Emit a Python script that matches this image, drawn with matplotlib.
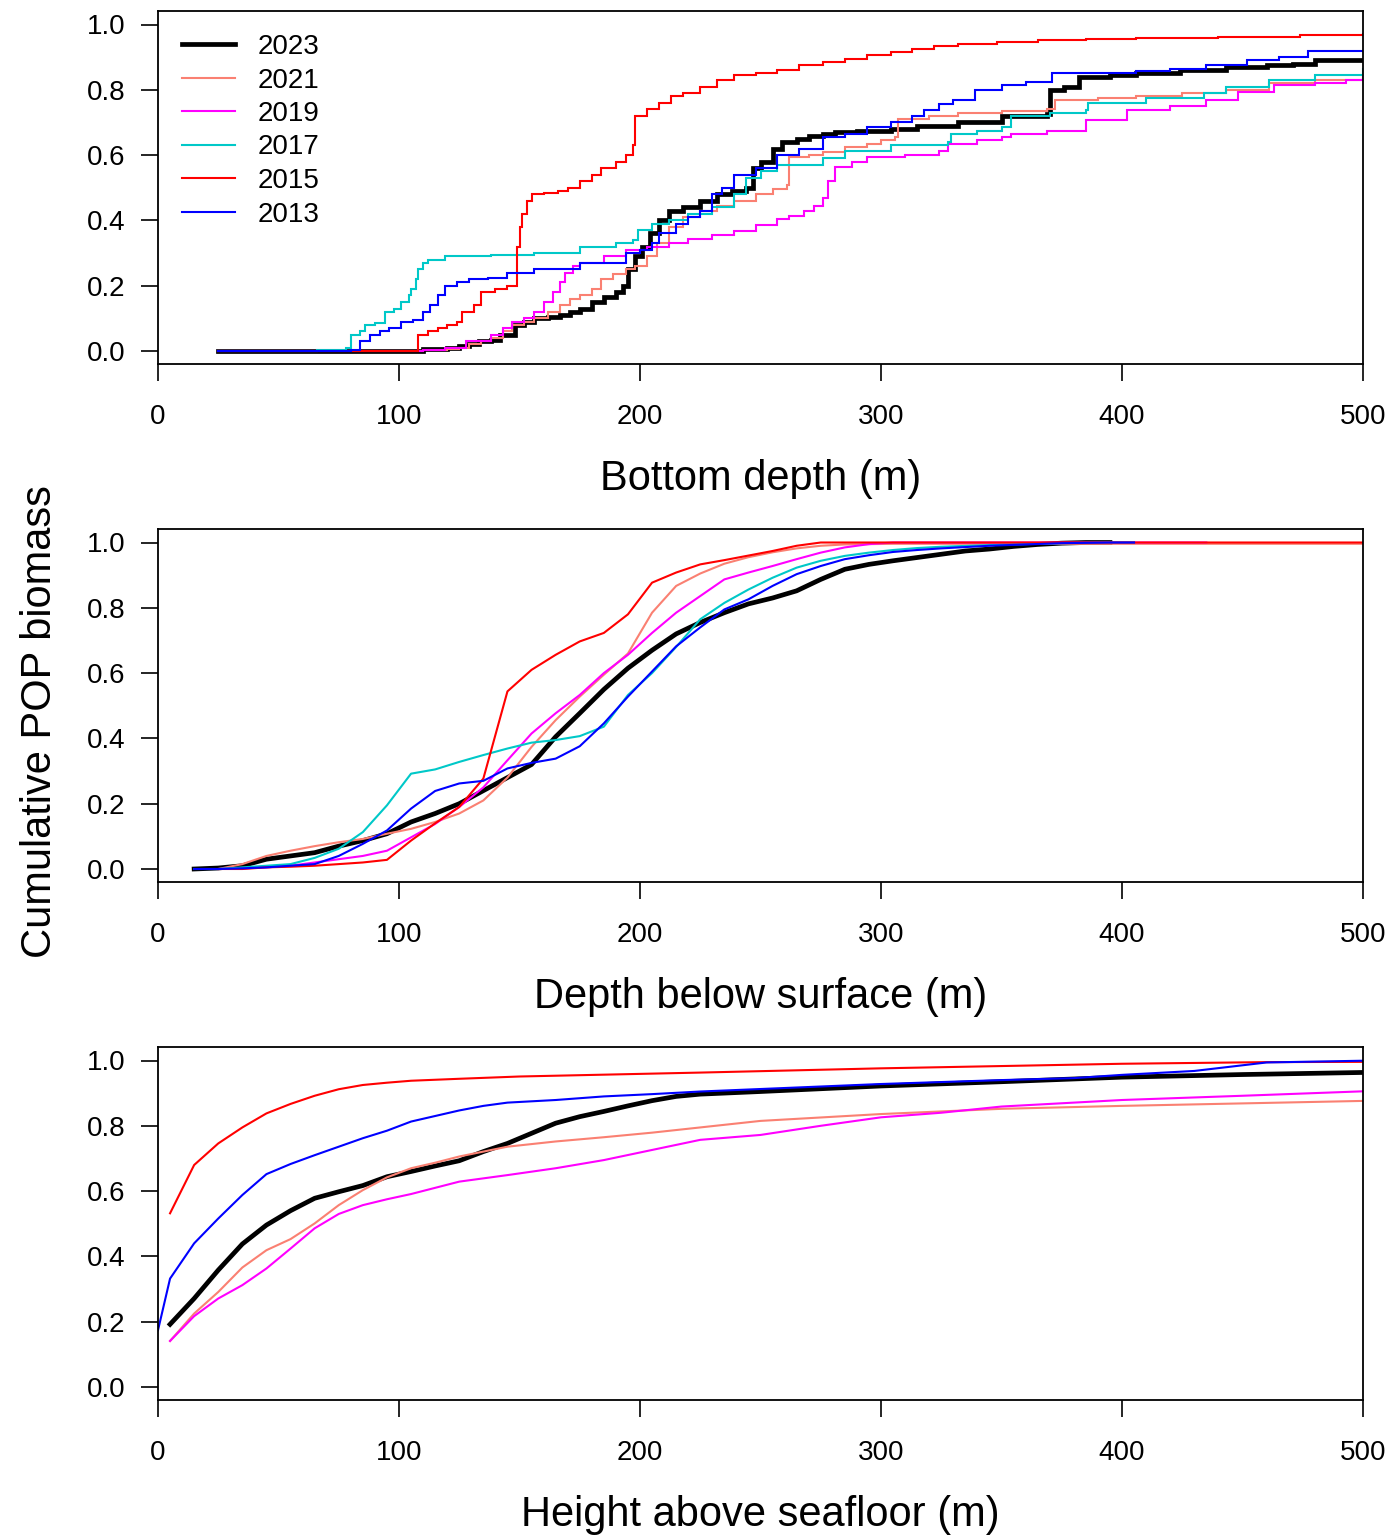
import matplotlib
matplotlib.use('Agg')
import matplotlib.pyplot as plt

plt.rcParams['font.family'] = ['Liberation Sans', 'DejaVu Sans']

# ---------------- data ----------------
years = ['2023', '2021', '2019', '2017', '2015', '2013']
colors = ['#000000', '#FA8072', '#FF00FF', '#00C8C8', '#FF0000', '#0000FF']

# Panel 1: bottom depth (m), cumulative biomass (step curves)
bd_x_2023 = [25, 110, 120, 125, 129, 133, 138, 142, 148, 152, 156, 162, 167, 171, 175, 180, 185, 190, 193, 195,
             198, 201, 204, 208, 212, 218, 225, 232, 238, 244, 247, 250, 255, 259, 265, 270, 276, 281, 290, 304,
             315, 332, 348, 350, 369, 370, 376, 382, 395, 406, 424, 443, 460, 471, 480, 500]
bd_y_2023 = [0, 0.005, 0.01, 0.015, 0.02, 0.03, 0.035, 0.05, 0.08, 0.09, 0.10, 0.105, 0.11, 0.12, 0.13, 0.15,
             0.165, 0.18, 0.2, 0.25, 0.29, 0.32, 0.36, 0.40, 0.43, 0.44, 0.46, 0.48, 0.49, 0.50, 0.56, 0.58, 0.62,
             0.64, 0.65, 0.66, 0.665, 0.67, 0.675, 0.68, 0.69, 0.70, 0.70, 0.72, 0.727, 0.80, 0.81, 0.84, 0.845,
             0.85, 0.86, 0.87, 0.875, 0.88, 0.89, 0.89]
bd_x_2021 = [25, 110, 120, 125, 129, 134, 138, 143, 147, 152, 156, 162, 167, 171, 175, 180, 184, 189, 194, 198,
             203, 207, 212, 218, 225, 232, 239, 248, 255, 261, 262, 270, 276, 285, 294, 300, 306, 307, 320, 332,
             350, 369, 372, 390, 406, 425, 443, 461, 480, 500]
bd_y_2021 = [0, 0.003, 0.005, 0.01, 0.02, 0.03, 0.04, 0.06, 0.08, 0.09, 0.10, 0.12, 0.14, 0.16, 0.17, 0.19,
             0.22, 0.235, 0.25, 0.26, 0.29, 0.33, 0.38, 0.41, 0.43, 0.445, 0.46, 0.48, 0.495, 0.507, 0.594, 0.60,
             0.61, 0.625, 0.635, 0.645, 0.655, 0.71, 0.72, 0.73, 0.735, 0.74, 0.77, 0.775, 0.78, 0.79, 0.80, 0.82,
             0.83, 0.84]
bd_x_2019 = [25, 110, 119, 128, 138, 143, 147, 152, 156, 160, 164, 167, 169, 172, 175, 185, 194, 203, 212, 220,
             230, 239, 248, 257, 262, 268, 272, 276, 278, 281, 288, 294, 310, 324, 328, 340, 350, 354, 369, 385,
             402, 420, 435, 448, 463, 480, 493, 500]
bd_y_2019 = [0, 0.003, 0.01, 0.03, 0.05, 0.07, 0.09, 0.10, 0.12, 0.15, 0.18, 0.21, 0.24, 0.26, 0.27, 0.29,
             0.31, 0.32, 0.33, 0.343, 0.355, 0.368, 0.385, 0.404, 0.415, 0.43, 0.445, 0.47, 0.52, 0.563, 0.58,
             0.594, 0.60, 0.614, 0.635, 0.645, 0.655, 0.665, 0.675, 0.706, 0.737, 0.75, 0.768, 0.793, 0.814,
             0.82, 0.829, 0.834]
bd_x_2017 = [25, 66, 78, 80, 84, 86, 90, 94, 98, 101, 104, 105, 107, 108, 110, 112, 119, 138, 156, 175, 190,
             197, 199, 205, 212, 220, 230, 239, 244, 250, 257, 276, 285, 304, 328, 329, 340, 350, 354, 370, 385,
             386, 410, 434, 443, 461, 480, 500]
bd_y_2017 = [0, 0.003, 0.01, 0.05, 0.06, 0.08, 0.085, 0.12, 0.13, 0.15, 0.17, 0.19, 0.22, 0.25, 0.27, 0.28,
             0.29, 0.295, 0.30, 0.32, 0.33, 0.34, 0.37, 0.39, 0.40, 0.42, 0.44, 0.48, 0.53, 0.55, 0.57, 0.59,
             0.614, 0.63, 0.64, 0.665, 0.675, 0.686, 0.72, 0.73, 0.737, 0.76, 0.775, 0.79, 0.81, 0.83, 0.845,
             0.865]
bd_x_2015 = [25, 108, 112, 116, 120, 124, 126, 131, 134, 140, 145, 149, 150, 151, 153, 155, 160, 166, 170, 175,
             180, 184, 190, 194, 197, 198, 203, 208, 213, 218, 225, 232, 239, 248, 257, 266, 276, 285, 294, 304,
             313, 322, 332, 348, 365, 385, 406, 440, 474, 500]
bd_y_2015 = [0, 0.05, 0.06, 0.07, 0.08, 0.09, 0.12, 0.14, 0.18, 0.19, 0.2, 0.32, 0.38, 0.42, 0.46, 0.48,
             0.485, 0.49, 0.50, 0.52, 0.54, 0.56, 0.58, 0.60, 0.63, 0.72, 0.74, 0.76, 0.78, 0.79, 0.81, 0.83,
             0.845, 0.85, 0.86, 0.875, 0.885, 0.895, 0.906, 0.915, 0.926, 0.935, 0.94, 0.945, 0.954, 0.957, 0.96,
             0.963, 0.968, 0.97]
bd_x_2013 = [25, 80, 84, 88, 92, 96, 101, 106, 110, 113, 116, 119, 124, 129, 137, 145, 156, 175, 194, 200, 205,
             208, 215, 220, 225, 230, 234, 239, 248, 257, 266, 276, 285, 294, 304, 313, 318, 324, 330, 339, 350,
             360, 371, 406, 420, 435, 452, 465, 477, 500]
bd_y_2013 = [0, 0.003, 0.03, 0.05, 0.06, 0.07, 0.09, 0.095, 0.12, 0.14, 0.17, 0.2, 0.21, 0.22, 0.225, 0.24,
             0.25, 0.27, 0.30, 0.31, 0.33, 0.36, 0.39, 0.41, 0.43, 0.48, 0.50, 0.54, 0.56, 0.60, 0.62, 0.655,
             0.665, 0.686, 0.70, 0.72, 0.737, 0.755, 0.768, 0.80, 0.815, 0.824, 0.85, 0.858, 0.865, 0.875, 0.89,
             0.90, 0.92, 0.92]

# Panel 2: depth below surface (m)
ds_x_2023 = [15, 25, 35, 45, 55, 65, 75, 85, 95, 105, 115, 125, 135, 145, 155, 165, 175, 185, 195, 205, 215,
             225, 235, 245, 255, 265, 275, 285, 295, 305, 315, 325, 335, 345, 355, 365, 375, 385, 395]
ds_y_2023 = [0, 0.003, 0.01, 0.03, 0.04, 0.05, 0.07, 0.087, 0.108, 0.144, 0.17, 0.20, 0.24, 0.28, 0.32, 0.405,
             0.477, 0.55, 0.615, 0.67, 0.72, 0.755, 0.785, 0.812, 0.83, 0.852, 0.887, 0.918, 0.933, 0.944, 0.954,
             0.964, 0.974, 0.98, 0.988, 0.994, 0.998, 1.0, 1.0]
ds_x_2021 = [25, 35, 45, 55, 65, 75, 85, 95, 105, 115, 125, 135, 145, 155, 165, 175, 185, 195, 205, 215, 225,
             235, 245, 255, 265, 275, 285, 305, 505]
ds_y_2021 = [0, 0.015, 0.04, 0.056, 0.07, 0.082, 0.092, 0.108, 0.123, 0.144, 0.17, 0.21, 0.28, 0.374, 0.456,
             0.528, 0.595, 0.66, 0.785, 0.867, 0.905, 0.935, 0.955, 0.97, 0.982, 0.99, 0.994, 0.996, 0.996]
ds_x_2019 = [25, 35, 45, 55, 65, 75, 85, 95, 105, 115, 125, 135, 145, 155, 165, 175, 185, 195, 205, 215, 225,
             235, 245, 255, 265, 275, 285, 295, 305, 435]
ds_y_2019 = [0, 0.002, 0.005, 0.01, 0.02, 0.03, 0.04, 0.056, 0.097, 0.138, 0.19, 0.25, 0.333, 0.415, 0.477,
             0.533, 0.60, 0.656, 0.723, 0.785, 0.836, 0.887, 0.908, 0.928, 0.949, 0.969, 0.985, 0.995, 1.0, 1.0]
ds_x_2017 = [15, 25, 35, 45, 55, 65, 75, 85, 95, 105, 115, 125, 135, 145, 155, 165, 175, 185, 195, 205, 215,
             225, 235, 245, 255, 265, 275, 285, 295, 305, 315, 325, 345, 375, 395, 405]
ds_y_2017 = [0, 0, 0.005, 0.01, 0.015, 0.034, 0.062, 0.113, 0.195, 0.292, 0.305, 0.328, 0.349, 0.369, 0.387,
             0.395, 0.407, 0.436, 0.533, 0.60, 0.68, 0.765, 0.815, 0.856, 0.892, 0.923, 0.944, 0.959, 0.969,
             0.977, 0.983, 0.987, 0.992, 0.998, 1.0, 1.0]
ds_x_2015 = [25, 35, 45, 55, 65, 75, 85, 95, 105, 115, 125, 135, 145, 155, 165, 175, 185, 195, 205, 215, 225,
             235, 245, 255, 265, 275, 505]
ds_y_2015 = [0, 0, 0.005, 0.007, 0.01, 0.015, 0.02, 0.028, 0.087, 0.14, 0.19, 0.277, 0.544, 0.61, 0.656, 0.697,
             0.723, 0.78, 0.877, 0.908, 0.933, 0.946, 0.96, 0.974, 0.99, 1.0, 1.0]
ds_x_2013 = [15, 25, 35, 45, 55, 65, 75, 85, 95, 105, 115, 125, 135, 145, 155, 165, 175, 185, 195, 205, 215,
             225, 235, 245, 255, 265, 275, 285, 295, 305, 315, 325, 345, 375, 395, 405]
ds_y_2013 = [0, 0, 0.002, 0.005, 0.01, 0.015, 0.04, 0.077, 0.118, 0.185, 0.239, 0.262, 0.27, 0.308, 0.325,
             0.338, 0.376, 0.446, 0.528, 0.605, 0.682, 0.74, 0.795, 0.826, 0.867, 0.903, 0.928, 0.949, 0.961,
             0.971, 0.977, 0.982, 0.99, 0.998, 1.0, 1.0]

# Panel 3: height above seafloor (m)  (no 2017 series)
hs_x_2023 = [5, 15, 25, 35, 45, 55, 65, 75, 85, 95, 105, 115, 125, 135, 145, 155, 165, 175, 185, 195, 205, 215,
             225, 250, 300, 350, 400, 450, 505]
hs_y_2023 = [0.192, 0.271, 0.358, 0.438, 0.496, 0.54, 0.578, 0.598, 0.617, 0.644, 0.66, 0.677, 0.693, 0.721,
             0.746, 0.777, 0.808, 0.828, 0.844, 0.861, 0.877, 0.89, 0.897, 0.905, 0.922, 0.935, 0.949, 0.957, 0.964]
hs_x_2021 = [5, 15, 25, 35, 45, 55, 65, 75, 85, 95, 105, 115, 125, 135, 145, 165, 185, 205, 225, 250, 300, 350,
             400, 505]
hs_y_2021 = [0.141, 0.225, 0.291, 0.366, 0.419, 0.453, 0.501, 0.557, 0.603, 0.642, 0.67, 0.687, 0.706, 0.721,
             0.736, 0.752, 0.765, 0.779, 0.795, 0.815, 0.836, 0.852, 0.861, 0.877]
hs_x_2019 = [5, 15, 25, 35, 45, 55, 65, 75, 85, 95, 105, 125, 145, 165, 185, 205, 225, 250, 275, 300, 325, 350,
             400, 450, 505]
hs_y_2019 = [0.141, 0.217, 0.271, 0.312, 0.363, 0.424, 0.486, 0.53, 0.557, 0.575, 0.591, 0.629, 0.649, 0.67,
             0.695, 0.726, 0.757, 0.772, 0.80, 0.826, 0.84, 0.859, 0.879, 0.892, 0.907]
hs_x_2015 = [5, 15, 25, 35, 45, 55, 65, 75, 85, 95, 105, 125, 150, 200, 225, 300, 400, 460, 505]
hs_y_2015 = [0.532, 0.68, 0.746, 0.795, 0.838, 0.867, 0.892, 0.912, 0.925, 0.932, 0.938, 0.944, 0.951, 0.959,
             0.963, 0.976, 0.99, 0.995, 0.996]
hs_x_2013 = [0, 5, 15, 25, 35, 45, 55, 65, 75, 85, 95, 105, 115, 125, 135, 145, 165, 185, 205, 225, 300, 350,
             380, 400, 430, 460, 505]
hs_y_2013 = [0.174, 0.332, 0.44, 0.516, 0.588, 0.652, 0.683, 0.71, 0.736, 0.762, 0.785, 0.813, 0.83, 0.847,
             0.861, 0.871, 0.879, 0.89, 0.897, 0.905, 0.928, 0.94, 0.946, 0.956, 0.968, 0.994, 1.0]

x_ticks = [0, 100, 200, 300, 400, 500]
y_ticks = [0.0, 0.2, 0.4, 0.6, 0.8, 1.0]
x_labels = ['Bottom depth (m)', 'Depth below surface (m)', 'Height above seafloor (m)']
y_label = 'Cumulative POP biomass'

panel1 = [(bd_x_2023, bd_y_2023), (bd_x_2021, bd_y_2021), (bd_x_2019, bd_y_2019),
          (bd_x_2017, bd_y_2017), (bd_x_2015, bd_y_2015), (bd_x_2013, bd_y_2013)]
panel2 = [(ds_x_2023, ds_y_2023), (ds_x_2021, ds_y_2021), (ds_x_2019, ds_y_2019),
          (ds_x_2017, ds_y_2017), (ds_x_2015, ds_y_2015), (ds_x_2013, ds_y_2013)]
panel3 = [(hs_x_2023, hs_y_2023), (hs_x_2021, hs_y_2021), (hs_x_2019, hs_y_2019),
          None, (hs_x_2015, hs_y_2015), (hs_x_2013, hs_y_2013)]

# ---------------- figure ----------------
W, H = 1390, 1535
fig = plt.figure(figsize=(W / 100, H / 100), dpi=100)

SCALE = 326.5          # px per unit of y
LEFT, RIGHT = 158, 1363
zero_px = [351, 869, 1387]

axes = []
for y0 in zero_px:
    top = y0 - 1.04 * SCALE
    bot = y0 + 0.04 * SCALE
    ax = fig.add_axes([LEFT / W, 1 - bot / H, (RIGHT - LEFT) / W, (bot - top) / H])
    axes.append(ax)

def lw_for(i):
    return 3.4 if i == 0 else 1.5

handles = []
for i, data in enumerate(panel1):
    xs, ys = data
    ln, = axes[0].plot(xs, ys, drawstyle='steps-post', color=colors[i], lw=lw_for(i),
                       label=years[i], solid_joinstyle='miter')
    handles.append(ln)

for i, data in enumerate(panel2):
    xs, ys = data
    axes[1].plot(xs, ys, color=colors[i], lw=lw_for(i))

for i, data in enumerate(panel3):
    if data is None:
        continue
    xs, ys = data
    axes[2].plot(xs, ys, color=colors[i], lw=lw_for(i))

box_h = 1.08 * SCALE
for k, ax in enumerate(axes):
    ax.set_xlim(0, 500)
    ax.set_ylim(-0.04, 1.04)
    ax.set_xticks(x_ticks)
    ax.set_xticklabels([str(v) for v in x_ticks])
    ax.set_yticks(y_ticks)
    ax.set_yticklabels(['%.1f' % v for v in y_ticks])
    ax.tick_params(axis='both', direction='out', length=12.5, width=1.2, labelsize=20,
                   colors='black')
    ax.tick_params(axis='x', pad=16)
    ax.tick_params(axis='y', pad=11)
    for sp in ax.spines.values():
        sp.set_linewidth(1.3)
        sp.set_color('black')
    ax.set_xlabel(x_labels[k], fontsize=30)
    ax.xaxis.set_label_coords(0.5, -126 / box_h)
    ax.xaxis.label.set_va('baseline')

leg_top_px = 34
ax0_top = zero_px[0] - 1.04 * SCALE
axes[0].legend(handles=handles, loc='upper left', frameon=False, fontsize=20,
               bbox_to_anchor=((182 - LEFT) / (RIGHT - LEFT), 1 - (leg_top_px - ax0_top) / box_h),
               borderpad=0, borderaxespad=0, handlelength=1.9, handletextpad=0.83,
               labelspacing=0.27)

fig.text(40 / W, 1 - 722 / H, y_label, rotation=90, fontsize=30, ha='center', va='center')

fig.savefig('out.png', dpi=100)
